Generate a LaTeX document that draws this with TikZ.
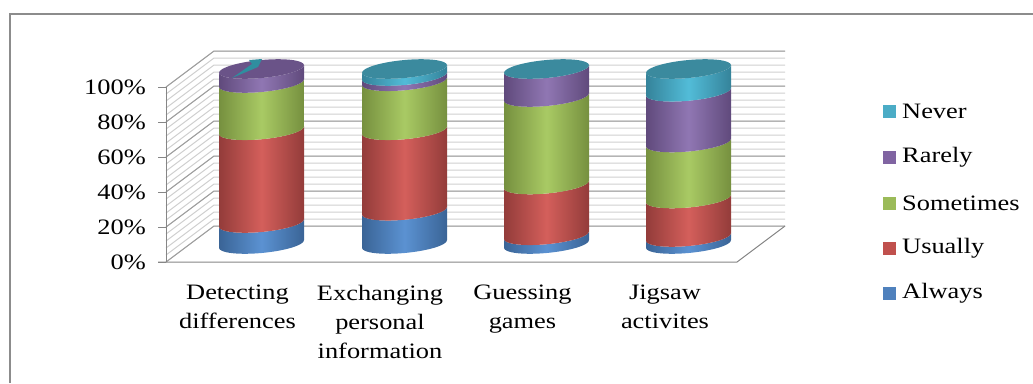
\documentclass[tikz,border=0pt]{standalone}
\usepackage{fontspec}
\newfontfamily\labfont[FakeStretch=1.2]{Liberation Serif}
\definecolor{frameC}{HTML}{8C8C8C}
\definecolor{axisC}{HTML}{868686}
\definecolor{majC}{HTML}{9E9E9E}
\definecolor{minC}{HTML}{D0D0D0}
\definecolor{blD}{HTML}{3A6496}\definecolor{blL}{HTML}{5B92D2}\definecolor{blB}{HTML}{4F81BD}
\definecolor{rdD}{HTML}{933C3A}\definecolor{rdL}{HTML}{D45F5B}\definecolor{rdB}{HTML}{C0504D}
\definecolor{grD}{HTML}{76903F}\definecolor{grL}{HTML}{A9CA64}\definecolor{grB}{HTML}{9BBB59}
\definecolor{puD}{HTML}{604A7C}\definecolor{puL}{HTML}{9077B3}\definecolor{puB}{HTML}{8064A2}
\definecolor{tlD}{HTML}{35839A}\definecolor{tlL}{HTML}{52BCD8}\definecolor{tlB}{HTML}{4BACC6}
\definecolor{tlTop}{HTML}{3B8A9E}
\definecolor{puTop}{HTML}{6A5388}
\definecolor{wedgeC}{HTML}{2F8E9F}
% segment: #1 centre x, #2 from %, #3 to %, #4 dark, #5 light
\newcommand\cylseg[5]{%
  \begin{scope}[shift={(#1,0)}, yslant=0.09]
    \path[left color=#4, right color=#4, middle color=#5]
      (-42.5,{244-1.75*#2}) arc[start angle=180, end angle=0, x radius=42.5, y radius=9]
      -- (42.5,{244-1.75*#3}) arc[start angle=0, end angle=180, x radius=42.5, y radius=9] -- cycle;
  \end{scope}}
\newcommand\cyltop[2]{%
  \begin{scope}[shift={(#1,0)}, yslant=0.09]
    \fill[#2] (0,69) ellipse[x radius=42.5, y radius=9];
  \end{scope}}
\tikzset{
  lab/.style={font=\labfont\fontsize{22}{29}\selectfont, text=black, inner sep=0pt},
  ylab/.style={lab, anchor=east},
  catlab/.style={lab, align=center, anchor=north},
  legbox/.style={minimum size=13pt, inner sep=0pt, draw=none},
  legtext/.style={lab, anchor=west},
}
\begin{document}
\begin{tikzpicture}[x=1pt,y=-1pt]
\useasboundingbox (0,0) rectangle (1033,383);
% frame
\draw[frameC, line width=2pt] (10,383) -- (10,14) -- (1033,14);
% grid walls
\foreach \k in {0,...,25}{
  \draw[minC, line width=1pt] (166,{262-7*\k}) -- (214,{226-7*\k}) -- (785,{226-7*\k});
}
\foreach \k in {0,5,...,25}{
  \draw[majC, line width=1pt] (166,{262-7*\k}) -- (214,{226-7*\k}) -- (785,{226-7*\k});
}
% floor and axis
\draw[axisC, line width=1pt] (158,262) -- (737,262) -- (785,226);
\draw[axisC, line width=1pt] (166,87) -- (166,262);
\foreach \j in {0,...,5}{
  \draw[axisC, line width=1pt] (158,{262-35*\j}) -- (166,{262-35*\j});
}
% y labels
\node[ylab] (y0)   at (146,262) {0\%};
\node[ylab] (y20)  at (146,227) {20\%};
\node[ylab] (y40)  at (146,192) {40\%};
\node[ylab] (y60)  at (146,157) {60\%};
\node[ylab] (y80)  at (146,122) {80\%};
\node[ylab] (y100) at (146,87)  {100\%};
% bar 1: Detecting differences
\cylseg{261.5}{0}{12}{blD}{blL}
\cylseg{261.5}{12}{65}{rdD}{rdL}
\cylseg{261.5}{65}{92}{grD}{grL}
\cylseg{261.5}{92}{100}{puD}{puL}
\cyltop{261.5}{puTop}
\fill[wedgeC] (232,78) -- (258,67) -- (262,59) -- (249,60) -- (252,64) -- cycle;
% bar 2: Exchanging personal information
\cylseg{404.5}{0}{19}{blD}{blL}
\cylseg{404.5}{19}{65}{rdD}{rdL}
\cylseg{404.5}{65}{93}{grD}{grL}
\cylseg{404.5}{93}{96}{puD}{puL}
\cylseg{404.5}{96}{100}{tlD}{tlL}
\cyltop{404.5}{tlTop}
% bar 3: Guessing games
\cylseg{546.5}{0}{5}{blD}{blL}
\cylseg{546.5}{5}{34}{rdD}{rdL}
\cylseg{546.5}{34}{84}{grD}{grL}
\cylseg{546.5}{84}{100}{puD}{puL}
\cyltop{546.5}{tlTop}
% bar 4: Jigsaw activites
\cylseg{688.5}{0}{4}{blD}{blL}
\cylseg{688.5}{4}{26}{rdD}{rdL}
\cylseg{688.5}{26}{58}{grD}{grL}
\cylseg{688.5}{58}{87}{puD}{puL}
\cylseg{688.5}{87}{100}{tlD}{tlL}
\cyltop{688.5}{tlTop}
% category labels
\node[catlab] (c1) at (237.5,285) {Detecting\\differences};
\node[catlab] (c2) at (380,285) {Exchanging\\personal\\information};
\node[catlab] (c3) at (522.5,285) {Guessing\\games};
\node[catlab] (c4) at (665,285) {Jigsaw\\activites};
% legend
\node[legbox, fill=tlB] (k5) at (889.5,111) {};
\node[legbox, fill=puB] (k4) at (889.5,157) {};
\node[legbox, fill=grB] (k3) at (889.5,203) {};
\node[legbox, fill=rdB] (k2) at (889.5,248) {};
\node[legbox, fill=blB] (k1) at (889.5,293) {};
\node[legtext] (t5) at (902,111) {Never};
\node[legtext] (t4) at (902,157) {Rarely};
\node[legtext] (t3) at (902,203) {Sometimes};
\node[legtext] (t2) at (902,248) {Usually};
\node[legtext] (t1) at (902,293) {Always};
\end{tikzpicture}
\end{document}
